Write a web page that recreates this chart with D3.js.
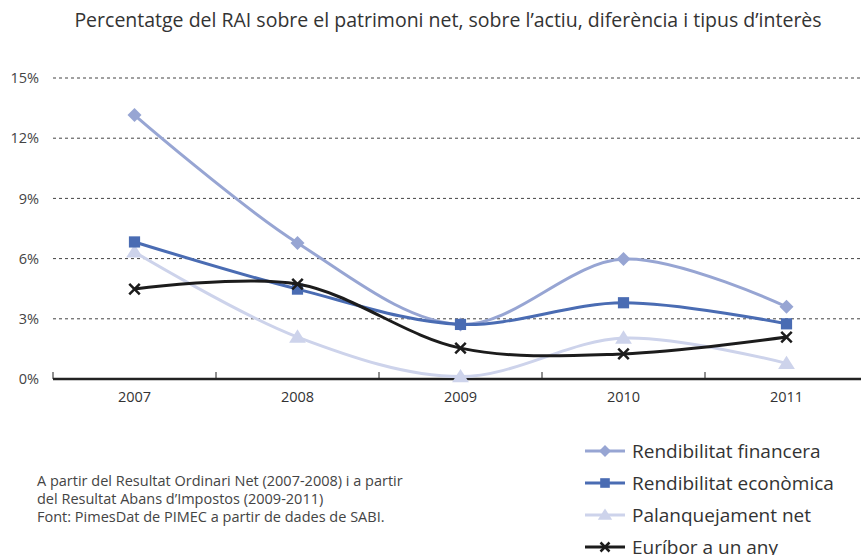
<!DOCTYPE html>
<html>
<head>
<meta charset="utf-8">
<script src="https://cdn.jsdelivr.net/npm/d3@7"></script>
<style>
  body { margin: 0; background: #fff; }
  text { font-family: "Open Sans", sans-serif; }
</style>
</head>
<body>
<script>
// Chart dimensions
let width = 861;
let height = 555;
let margin = { top: 78, bottom: 176, left: 53, right: 0 };

// Data
let years = ["2007", "2008", "2009", "2010", "2011"];
let yTicks = [0, 3, 6, 9, 12, 15];
let seriesNames = ["Rendibilitat financera", "Rendibilitat econòmica", "Palanquejament net", "Euríbor a un any"];
let financera = [13.15, 6.78, 2.72, 5.98, 3.6];
let economica = [6.83, 4.48, 2.72, 3.8, 2.75];
let palanquejament = [6.33, 2.09, 0.12, 2.04, 0.78];
let euribor = [4.48, 4.73, 1.54, 1.25, 2.09];
let notes = [
  "A partir del Resultat Ordinari Net (2007-2008) i a partir",
  "del Resultat Abans d\u2019Impostos (2009-2011)",
  "Font: PimesDat de PIMEC a partir de dades de SABI."
];

let series = [
  { name: seriesNames[0], values: financera, color: "#97a5d3", symbol: "diamond" },
  { name: seriesNames[1], values: economica, color: "#4a6cb3", symbol: "square" },
  { name: seriesNames[2], values: palanquejament, color: "#cdd3eb", symbol: "triangle" },
  { name: seriesNames[3], values: euribor, color: "#1c1c1c", symbol: "cross" }
];

let svg = d3.select("body")
  .append("svg")
  .attr("width", width)
  .attr("height", height);

// Scales
let xScale = d3.scaleBand()
  .domain(years)
  .range([margin.left, margin.left + 163 * years.length]);

let yScale = d3.scaleLinear()
  .domain([0, 15])
  .range([height - margin.bottom, margin.top]);

let xPos = d => xScale(d) + xScale.bandwidth() / 2;

// Title
svg.append("text")
  .attr("x", 448)
  .attr("y", 27)
  .attr("text-anchor", "middle")
  .style("font-size", "19.5px")
  .style("fill", "#333")
  .text("Percentatge del RAI sobre el patrimoni net, sobre l\u2019actiu, diferència i tipus d\u2019interès");

// Gridlines (dashed)
svg.append("g")
  .selectAll("line")
  .data(yTicks.filter(d => d > 0))
  .enter()
  .append("line")
  .attr("x1", margin.left)
  .attr("x2", width)
  .attr("y1", d => yScale(d))
  .attr("y2", d => yScale(d))
  .attr("stroke", "#444")
  .attr("stroke-width", 1)
  .attr("stroke-dasharray", "3,3");

// Y axis labels
let yAxis = svg.append("g")
  .attr("transform", `translate(${margin.left}, 0)`)
  .call(d3.axisLeft(yScale).tickValues(yTicks).tickFormat(d => d + "%").tickSize(0).tickPadding(14));
yAxis.select(".domain").remove();
yAxis.selectAll("text")
  .style("font-size", "14.5px")
  .style("fill", "#444")
  .style("font-family", "Open Sans, sans-serif");

// X axis
let xAxis = svg.append("g")
  .attr("transform", `translate(0, ${yScale(0)})`)
  .call(d3.axisBottom(xScale).tickSize(0).tickPadding(13));
xAxis.select(".domain").remove();
xAxis.selectAll("text")
  .style("font-size", "14.5px")
  .style("fill", "#333")
  .style("font-family", "Open Sans, sans-serif");

// Category separator ticks (pointing up)
svg.append("g")
  .selectAll("line")
  .data(years)
  .enter()
  .append("line")
  .attr("x1", d => xScale(d))
  .attr("x2", d => xScale(d))
  .attr("y1", yScale(0))
  .attr("y2", yScale(0) - 7)
  .attr("stroke", "#222")
  .attr("stroke-width", 1);

svg.append("line")
  .attr("x1", margin.left)
  .attr("x2", width)
  .attr("y1", yScale(0))
  .attr("y2", yScale(0))
  .attr("stroke", "#222")
  .attr("stroke-width", 2.5);

// Lines
let line = d3.line()
  .x((d, i) => xPos(years[i]))
  .y(d => yScale(d))
  .curve(d3.curveCatmullRom.alpha(0.5));

let drawOrder = [2, 0, 1, 3];

function drawSymbol(g, type, color, x, y, s) {
  if (type === "diamond") {
    g.append("path")
      .attr("d", `M${x},${y - s} L${x + s},${y} L${x},${y + s} L${x - s},${y} Z`)
      .attr("fill", color);
  } else if (type === "square") {
    g.append("rect")
      .attr("x", x - s * 0.8).attr("y", y - s * 0.8)
      .attr("width", s * 1.6).attr("height", s * 1.6)
      .attr("fill", color);
  } else if (type === "triangle") {
    g.append("path")
      .attr("d", `M${x},${y - s * 1.1} L${x + s * 1.2},${y + s * 0.8} L${x - s * 1.2},${y + s * 0.8} Z`)
      .attr("fill", color);
  } else {
    let c = s * 0.75;
    g.append("path")
      .attr("d", `M${x - c},${y - c} L${x + c},${y + c} M${x - c},${y + c} L${x + c},${y - c}`)
      .attr("stroke", color)
      .attr("stroke-width", 2.5)
      .attr("fill", "none");
  }
}

drawOrder.forEach(k => {
  let s = series[k];
  let g = svg.append("g");
  g.append("path")
    .datum(s.values)
    .attr("d", line)
    .attr("fill", "none")
    .attr("stroke", s.color)
    .attr("stroke-width", 3);
  s.values.forEach((v, i) => drawSymbol(g, s.symbol, s.color, xPos(years[i]), yScale(v), 7));
});

// Legend
let legend = svg.selectAll(".legend")
  .data(series)
  .enter().append("g")
  .attr("class", "legend")
  .attr("transform", (d, i) => `translate(585, ${451 + i * 32})`);

legend.append("line")
  .attr("x1", 0).attr("x2", 40)
  .attr("stroke", d => d.color)
  .attr("stroke-width", 3);

legend.each(function (d) {
  drawSymbol(d3.select(this), d.symbol, d.color, 20, 0, 6);
});

legend.append("text")
  .attr("x", 47)
  .attr("y", 7)
  .style("font-size", "19px")
  .style("fill", "#333")
  .text(d => d.name);

// Footnote
svg.append("g")
  .selectAll("text")
  .data(notes)
  .enter()
  .append("text")
  .attr("x", 37)
  .attr("y", (d, i) => 486 + i * 18)
  .style("font-size", "14.5px")
  .style("fill", "#444")
  .text(d => d);
</script>
</body>
</html>
